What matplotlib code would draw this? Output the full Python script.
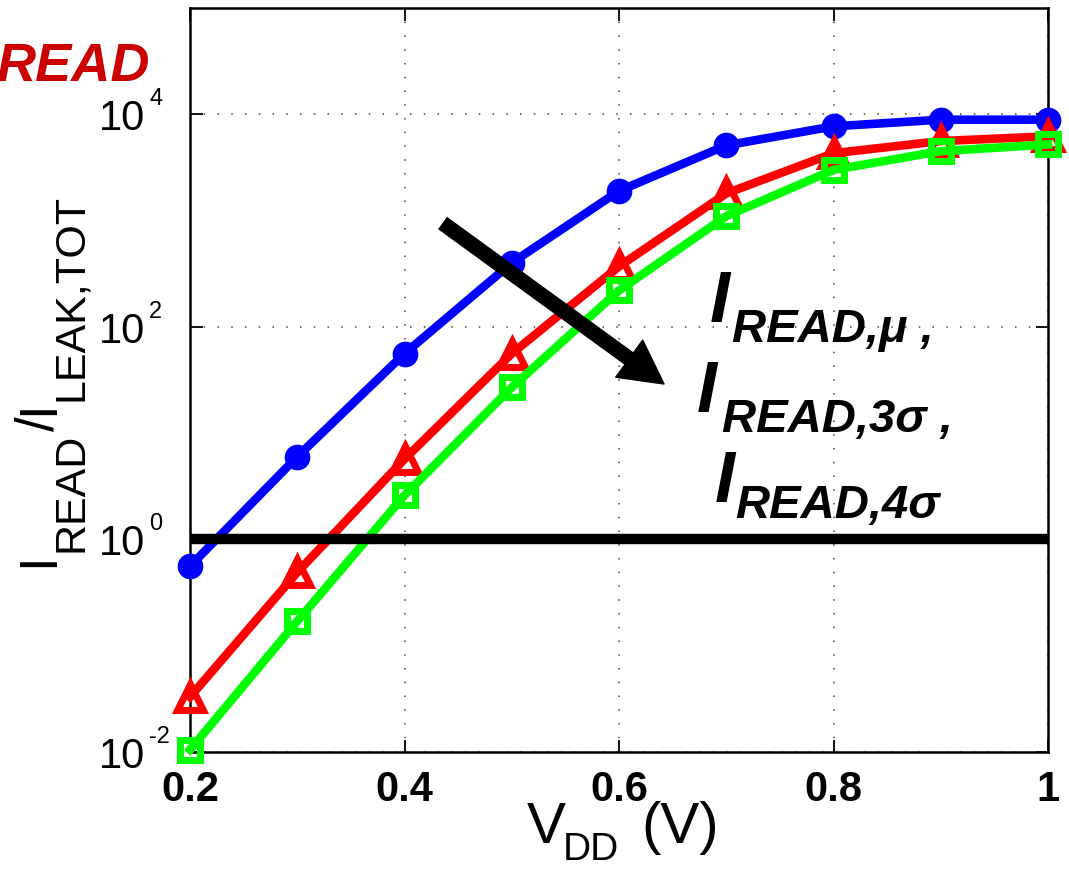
import matplotlib.pyplot as plt
from matplotlib.ticker import FixedLocator, NullLocator, NullFormatter
from matplotlib.transforms import ScaledTranslation

plt.rcParams['font.family'] = 'Liberation Sans'

# I_READ / I_LEAK,TOT vs supply voltage
vdd = [0.2, 0.3, 0.4, 0.5, 0.6, 0.7, 0.8, 0.9, 1.0]
ratio_mu = [0.56, 6.0, 56, 400, 1900, 5100, 7700, 8900, 8900]
ratio_3sigma = [0.033, 0.49, 5.7, 56, 370, 1800, 4300, 5600, 6200]
ratio_4sigma = [0.0105, 0.17, 2.6, 27, 220, 1100, 3000, 4500, 5200]

xticks = [0.2, 0.4, 0.6, 0.8, 1.0]
xticklabels = ['0.2', '0.4', '0.6', '0.8', '1']
yticks = [1e-2, 1e0, 1e2, 1e4]
yexponents = ['-2', '0', '2', '4']

W, H = 1069, 869
fig = plt.figure(figsize=(W / 100, H / 100), dpi=100)
ax = fig.add_axes([190 / W, 1 - 752 / H, 858 / W, 744 / H])

ax.set_yscale('log')
ax.set_xlim(0.2, 1.0)
ax.set_ylim(1e-2, 1e5)

ax.plot(vdd, ratio_mu, color='#0000ff', lw=6.2, marker='o', ms=16.5,
        mfc='#0000ff', mec='#0000ff', mew=2, clip_on=False, zorder=3)
ax.plot(vdd, ratio_3sigma, color='#ff0000', lw=6.2, marker='^', ms=19,
        mfc='none', mec='#ff0000', mew=5, clip_on=False, zorder=4)
ax.plot(vdd, ratio_4sigma, color='#00ff00', lw=6.2, marker='s', ms=15,
        mfc='none', mec='#00ff00', mew=5, clip_on=False, zorder=5)

# unity ratio reference line
ax.axhline(1, color='black', lw=7.5, zorder=6)

# trend arrow
ax.annotate('', xy=(0.642, 29), xytext=(0.436, 940),
            arrowprops=dict(facecolor='black', edgecolor='black',
                            width=10, headwidth=33, headlength=31, shrink=0),
            zorder=7)

ax.xaxis.set_major_locator(FixedLocator(xticks))
ax.set_xticklabels(xticklabels, fontweight='bold')
ax.yaxis.set_major_locator(FixedLocator(yticks))
ax.yaxis.set_major_formatter(NullFormatter())
ax.yaxis.set_minor_locator(NullLocator())
ax.yaxis.set_minor_formatter(NullFormatter())
ax.tick_params(which='both', direction='in', top=True, right=True,
               length=9, width=1.3, labelsize=30, pad=13)
for sp in ax.spines.values():
    sp.set_linewidth(1.8)

ax.grid(True, color='#444444', lw=1.1, linestyle=(0, (1, 8)))
ax.set_axisbelow(True)

# y tick labels written as 10 with a raised exponent
ytrans = ax.get_yaxis_transform()
base_off = ytrans + ScaledTranslation(0, -0.16, fig.dpi_scale_trans)
sup_off = ytrans + ScaledTranslation(0, 0.09, fig.dpi_scale_trans)
for val, ex in zip(yticks, yexponents):
    ax.text((145 - 190) / 858, val, '10', fontsize=30, ha='right',
            va='baseline', transform=base_off, clip_on=False)
    ax.text((149 - 190) / 858, val, ex, fontsize=17, ha='left',
            va='baseline', transform=sup_off, clip_on=False)


def fx(px):
    return px / W


def fy(py):
    return 1 - py / H


# x axis label
fig.text(fx(527), fy(843), 'V', fontsize=42, va='baseline')
fig.text(fx(563), fy(860), 'DD', fontsize=28, va='baseline')
fig.text(fx(641), fy(843), '(V)', fontsize=42, va='baseline')

# y axis label, built piece by piece going upward
renderer = fig.canvas.get_renderer()
ylab = [('I', 38, 53, 0), ('READ', 31, 82, 2), ('/', 38, 53, 1),
        ('I', 38, 53, 0), ('LEAK,TOT', 31, 82, 0)]
ypos = 567
for s, size, xb, gap in ylab:
    t = fig.text(fx(xb), fy(ypos), s, fontsize=size, rotation=90,
                 rotation_mode='anchor', ha='left', va='baseline')
    ypos -= t.get_window_extent(renderer).height + gap

# series labels next to the arrow
lbl = dict(fontweight='bold', fontstyle='italic', color='black', va='baseline', ha='left')
rows = [
    (710, 322, 732, 342, 'READ,\u03bc ,'),
    (697, 412, 722, 432, 'READ,3\u03c3 ,'),
    (715, 502, 735, 518, 'READ,4\u03c3'),
]
for ix, iy, sx, sy, sub in rows:
    fig.text(fx(ix), fy(iy), 'I', fontsize=52, **lbl)
    fig.text(fx(sx), fy(sy), sub, fontsize=34, **lbl)

# red heading in the upper-left corner
red = dict(fontweight='bold', fontstyle='italic', color='#cc0000', va='baseline', ha='left')
fig.text(fx(-19), fy(33), 'I', fontsize=54, **red)
fig.text(fx(-4), fy(81), 'READ', fontsize=39, **red)

fig.savefig('out.png', dpi=100)
